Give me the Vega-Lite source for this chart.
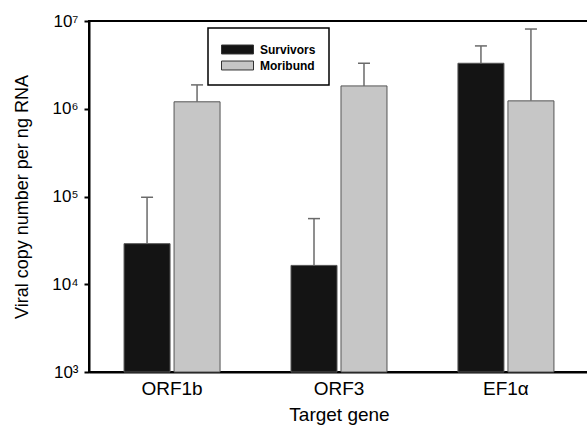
{
  "$schema": "https://vega.github.io/schema/vega-lite/v6.json",
  "width": 500,
  "height": 351,
  "autosize": {"type": "none"},
  "padding": {"left": 89, "top": 21, "right": 0, "bottom": 55},
  "background": "white",
  "config": {
    "font": "Liberation Sans",
    "view": {"stroke": "black", "strokeWidth": 2}
  },
  "data": {
    "values": [
      {"gene": "ORF1b", "group": "Survivors", "value": 29000, "upper": 98000, "base": 1000},
      {"gene": "ORF1b", "group": "Moribund", "value": 1200000, "upper": 1870000, "base": 1000},
      {"gene": "ORF3", "group": "Survivors", "value": 16400, "upper": 56000, "base": 1000},
      {"gene": "ORF3", "group": "Moribund", "value": 1820000, "upper": 3300000, "base": 1000},
      {"gene": "EF1α", "group": "Survivors", "value": 3300000, "upper": 5200000, "base": 1000},
      {"gene": "EF1α", "group": "Moribund", "value": 1230000, "upper": 8100000, "base": 1000}
    ]
  },
  "encoding": {
    "x": {
      "field": "gene",
      "type": "nominal",
      "sort": ["ORF1b", "ORF3", "EF1α"],
      "scale": {"paddingInner": 0.425, "paddingOuter": 0.21},
      "axis": {
        "title": "Target gene",
        "labelAngle": 0,
        "ticks": false,
        "domainColor": "black",
        "domainWidth": 2,
        "labelFontSize": 19,
        "labelColor": "black",
        "labelPadding": 7,
        "titleFontSize": 19,
        "titleFontWeight": "normal",
        "titleColor": "black",
        "titlePadding": 7
      }
    },
    "xOffset": {
      "field": "group",
      "type": "nominal",
      "sort": ["Survivors", "Moribund"],
      "scale": {"paddingInner": 0.08, "paddingOuter": 0}
    }
  },
  "layer": [
    {
      "mark": {"type": "bar", "stroke": "#555555", "strokeWidth": 1},
      "encoding": {
        "y": {
          "field": "value",
          "type": "quantitative",
          "scale": {"type": "log", "domain": [1000, 10000000]},
          "axis": {
            "title": "Viral copy number per ng RNA",
            "values": [1000, 10000, 100000, 1000000, 10000000],
            "labelExpr": "datum.value == 1000 ? '10³' : datum.value == 10000 ? '10⁴' : datum.value == 100000 ? '10⁵' : datum.value == 1000000 ? '10⁶' : '10⁷'",
            "grid": false,
            "domainColor": "black",
            "domainWidth": 2,
            "tickColor": "black",
            "tickWidth": 2,
            "tickSize": 5,
            "labelFontSize": 17,
            "labelColor": "black",
            "labelPadding": 6,
            "titleFontSize": 18,
            "titleFontWeight": "normal",
            "titleColor": "black",
            "titlePadding": 20
          }
        },
        "y2": {"field": "base"},
        "color": {
          "field": "group",
          "type": "nominal",
          "sort": ["Survivors", "Moribund"],
          "scale": {"domain": ["Survivors", "Moribund"], "range": ["#141414", "#c6c6c6"]},
          "legend": {
            "title": null,
            "orient": "none",
            "legendX": 119,
            "legendY": 7,
            "direction": "vertical",
            "strokeColor": "black",
            "fillColor": "white",
            "padding": 13,
            "symbolType": "M-2,-0.56H2V0.56H-2Z",
            "symbolSize": 256,
            "symbolOffset": 8,
            "symbolStrokeColor": "#333333",
            "symbolStrokeWidth": 1,
            "symbolOpacity": 1,
            "labelFontSize": 12,
            "labelFontWeight": "bold",
            "labelColor": "black",
            "labelOffset": 14,
            "rowPadding": 1,
            "encode": {"legend": {"update": {"strokeWidth": {"value": 1.5}}}}
          }
        }
      }
    },
    {
      "mark": {"type": "rule", "color": "#6a6a6a", "strokeWidth": 1.5},
      "encoding": {
        "y": {"field": "value", "type": "quantitative"},
        "y2": {"field": "upper"}
      }
    },
    {
      "mark": {"type": "point", "shape": "M-1,0H1", "size": 144, "filled": false, "color": "#6a6a6a", "strokeWidth": 1.5, "opacity": 1},
      "encoding": {
        "y": {"field": "upper", "type": "quantitative"}
      }
    }
  ]
}
